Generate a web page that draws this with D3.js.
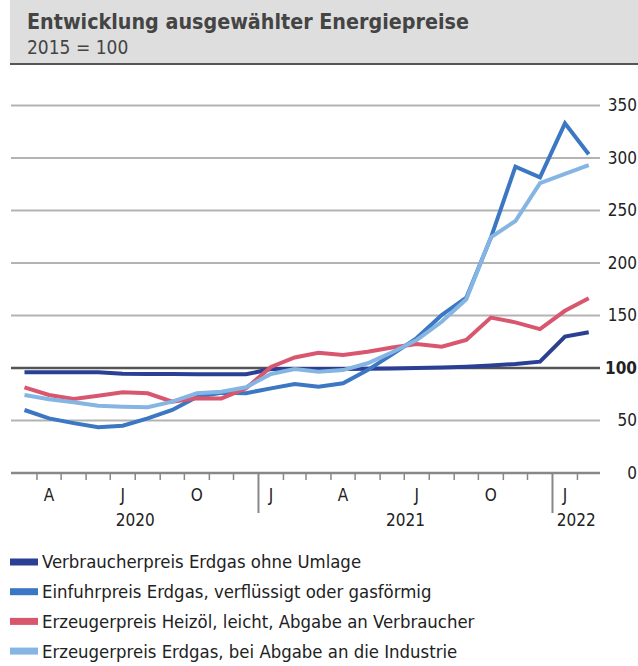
<!DOCTYPE html>
<html><head><meta charset="utf-8">
<script src="https://cdn.jsdelivr.net/npm/d3@7"></script>
<style>
body{margin:0;background:#fff;}
text{font-family:"Liberation Sans Narrow","DejaVu Sans Condensed","Roboto Condensed",sans-serif;}
</style></head>
<body><svg id="c" width="638" height="666"></svg>
<script>
// ---- data (Mar 2020 – Feb 2022, monthly, 2015 = 100) ----
const months = d3.range(24).map(i => new Date(2020, 2 + i, 1));
const verbraucherErdgas = [96, 96, 96, 96, 94.5, 94.3, 94.2, 94.1, 94, 94, 99, 99, 99, 99, 99.3, 99.5, 100, 100.5, 101.3, 102.3, 103.8, 106, 130, 134];
const einfuhrErdgas     = [60, 52, 47.5, 43.5, 45, 52, 60, 72.5, 76.5, 76, 80.6, 84.8, 82.2, 85.4, 98, 113, 128.5, 150.5, 167, 224, 291.7, 281.6, 333, 303.5];
const heizoel           = [81.6, 74.3, 70.5, 73.6, 76.9, 75.9, 68, 71.1, 71, 80.6, 101, 110, 114.6, 112.4, 115.5, 119.5, 122.9, 120.3, 126.7, 148, 143.5, 137, 154.5, 166.4];
const industrieErdgas   = [74.3, 70.2, 67.3, 64.1, 63.1, 62.6, 68, 75.9, 77.4, 81.6, 94.3, 99, 96.5, 98, 104.5, 115, 126.7, 144, 165.4, 224.5, 240, 276, 284.8, 293.3];
const seriesNames = ["Verbraucherpreis Erdgas ohne Umlage", "Einfuhrpreis Erdgas, verflüssigt oder gasförmig", "Erzeugerpreis Heizöl, leicht, Abgabe an Verbraucher", "Erzeugerpreis Erdgas, bei Abgabe an die Industrie"];
const seriesColors = ["#2b3f94", "#3b77c2", "#d9566f", "#85b5e3"];
const yTicks = [0, 50, 100, 150, 200, 250, 300, 350];
const quarterLabels = {0: "J", 3: "A", 6: "J", 9: "O"};
const years = [2020, 2021, 2022];
const title = "Entwicklung ausgewählter Energiepreise";
const subtitle = "2015 = 100";

const svg = d3.select("#c");
const allSeries = [verbraucherErdgas, einfuhrErdgas, heizoel, industrieErdgas];

// header
svg.append("rect").attr("x", 10).attr("y", 0).attr("width", 628).attr("height", 64).attr("fill", "#dedede");
svg.append("line").attr("x1", 10).attr("x2", 638).attr("y1", 64).attr("y2", 64).attr("stroke", "#555").attr("stroke-width", 2);
svg.append("text").attr("x", 27).attr("y", 29).attr("font-size", 21.3).attr("font-weight", "bold").attr("fill", "#444").text(title);
svg.append("text").attr("x", 27).attr("y", 54).attr("font-size", 19).attr("fill", "#444").text(subtitle);

// scales
const x = d3.scaleTime().domain([new Date(2020, 2, 1), new Date(2022, 2, 1)]).range([12, 600]);
const xMid = d => new Date((+d + +d3.timeMonth.offset(d, 1)) / 2);
const y = d3.scaleLinear().domain([0, 350]).range([473, 105.5]);

// gridlines
svg.append("g").selectAll("line").data(yTicks.filter(t => t !== 0)).join("line")
  .attr("x1", 11).attr("x2", 600)
  .attr("y1", d => y(d)).attr("y2", d => y(d))
  .attr("stroke", d => d === 100 ? "#555" : "#b3b3b3")
  .attr("stroke-width", d => d === 100 ? 2.5 : 2);

// y labels (right)
svg.append("g").selectAll("text").data(yTicks).join("text")
  .attr("x", 637).attr("y", d => y(d)).attr("dy", "0.35em")
  .attr("text-anchor", "end").attr("font-size", 17)
  .attr("font-weight", d => d === 100 ? "bold" : "normal")
  .attr("fill", "#222").text(d => d);

// x axis
const gx = svg.append("g");
gx.append("line").attr("x1", 11).attr("x2", 600).attr("y1", y(0)).attr("y2", y(0)).attr("stroke", "#888").attr("stroke-width", 2.5);
const bounds = d3.timeMonth.range(new Date(2020, 3, 1), new Date(2022, 2, 1));
gx.selectAll("line.tick").data(bounds).join("line").attr("class", "tick")
  .attr("x1", d => x(d)).attr("x2", d => x(d))
  .attr("y1", y(0)).attr("y2", d => d.getMonth() === 0 ? y(0) + 40 : y(0) + 7)
  .attr("stroke", "#888").attr("stroke-width", d => d.getMonth() === 0 ? 2 : 1.5);
gx.selectAll("text.m").data(months.filter(d => quarterLabels[d.getMonth()] !== undefined)).join("text").attr("class", "m")
  .attr("x", d => x(xMid(d))).attr("y", 501).attr("text-anchor", "middle").attr("font-size", 17).attr("fill", "#222")
  .text(d => quarterLabels[d.getMonth()]);
gx.selectAll("text.yr").data(years).join("text").attr("class", "yr")
  .attr("x", d => {
    const a = Math.max(+x.domain()[0], +new Date(d, 0, 1));
    const b = Math.min(+x.domain()[1], +new Date(d + 1, 0, 1));
    return (x(new Date(a)) + x(new Date(b))) / 2;
  })
  .attr("y", 526).attr("text-anchor", "middle").attr("font-size", 17).attr("fill", "#222").text(d => d);

// lines
const line = d3.line().x((v, i) => x(xMid(months[i]))).y(v => y(v));
svg.append("g").selectAll("path").data(allSeries).join("path")
  .attr("d", d => line(d)).attr("fill", "none")
  .attr("stroke", (d, i) => seriesColors[i]).attr("stroke-width", 4)
  .attr("stroke-linejoin", "miter").attr("stroke-linecap", "butt");

// legend
const lg = svg.append("g").selectAll("g").data(seriesNames).join("g")
  .attr("transform", (d, i) => `translate(10,${562 + i * 29.7})`);
lg.append("rect").attr("x", 0).attr("y", -3.5).attr("width", 28).attr("height", 7).attr("fill", (d, i) => seriesColors[i]);
lg.append("text").attr("x", 32).attr("y", 0).attr("dy", "0.35em").attr("font-size", 18.4).attr("fill", "#222").text(d => d);
</script></body></html>
